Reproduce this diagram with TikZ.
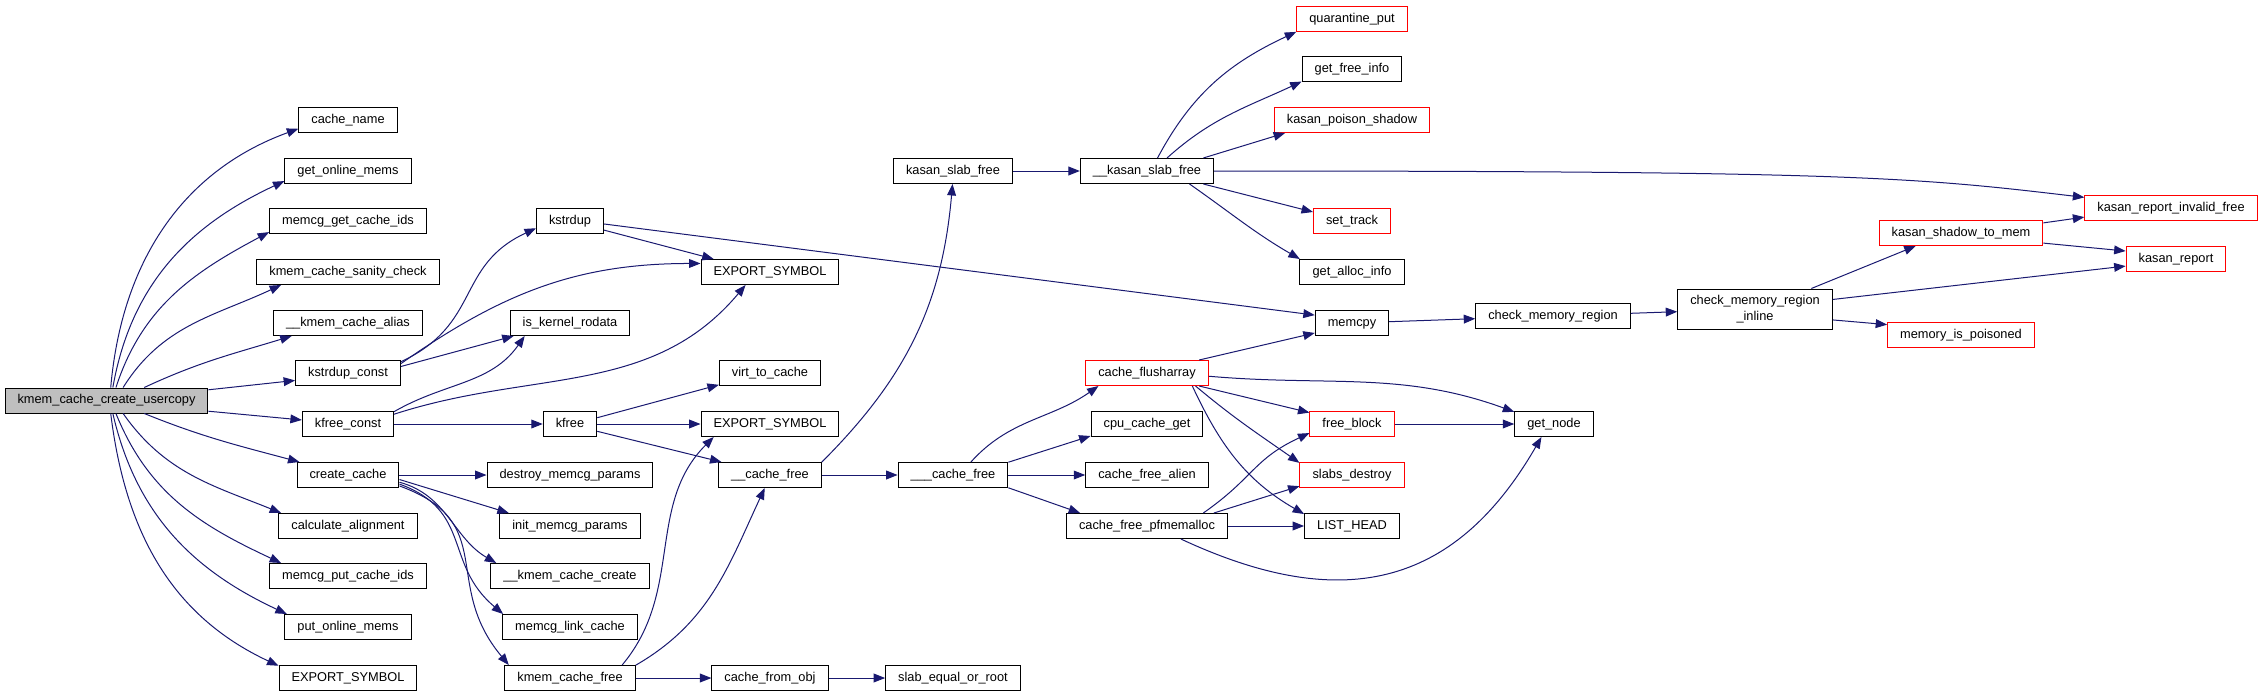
\documentclass[tikz,border=0pt]{standalone}
\usepackage{fontspec}
\setmainfont{Liberation Sans}
\usetikzlibrary{arrows.meta}
\definecolor{edgeblue}{RGB}{25,25,112}
\definecolor{rootgrey}{RGB}{191,191,191}

\begin{document}
\begin{tikzpicture}[
		x=0.75pt, y=0.75pt,
		fnbase/.style={draw=black, rectangle, line width=0.75pt, fill=white, inner xsep=9.4pt, font=\fontsize{9.6}{11.5}\selectfont},
		fnbox/.style={fnbase, inner ysep=0pt, minimum height=18.75pt, text height=7pt, text depth=2pt},
		redbox/.style={fnbox, draw=red},
		rootbox/.style={fnbox, fill=rootgrey},
		callarrow/.style={-{Triangle[length=8.6pt, width=6.6pt]}, line width=0.75pt, draw=edgeblue}
		]
		\useasboundingbox (0,0) rectangle (2267,-696);
		
		% Define Nodes
		\node[rootbox] (root) at (106.5,-400.5) {kmem\_cache\_create\_usercopy};
		
		% direct callees
		\node[fnbox] (cname) at (348,-120) {cache\_name};
		\node[fnbox] (gom) at (348,-171) {get\_online\_mems};
		\node[fnbox] (mgci) at (348,-221) {memcg\_get\_cache\_ids};
		\node[fnbox] (kcsc) at (348,-272) {kmem\_cache\_sanity\_check};
		\node[fnbox] (kca) at (348,-323) {\_\_kmem\_cache\_alias};
		\node[fnbox] (ksc) at (348,-373) {kstrdup\_const};
		\node[fnbox] (kfc) at (348,-424) {kfree\_const};
		\node[fnbox] (cc) at (348,-475) {create\_cache};
		\node[fnbox] (calign) at (348,-526) {calculate\_alignment};
		\node[fnbox] (mpci) at (348,-576) {memcg\_put\_cache\_ids};
		\node[fnbox] (pom) at (348,-627) {put\_online\_mems};
		\node[fnbox] (exp1) at (348,-678) {EXPORT\_SYMBOL};
		
		% second level
		\node[fnbox] (kstrdup) at (570,-221) {kstrdup};
		\node[fnbox] (iskr) at (570,-323) {is\_kernel\_rodata};
		\node[fnbox] (kfree) at (570,-424) {kfree};
		\node[fnbox] (dmp) at (570,-475) {destroy\_memcg\_params};
		\node[fnbox] (imp) at (570,-526) {init\_memcg\_params};
		\node[fnbox] (kmcc) at (570,-576) {\_\_kmem\_cache\_create};
		\node[fnbox] (mlc) at (570,-627) {memcg\_link\_cache};
		\node[fnbox] (kcf) at (570,-678) {kmem\_cache\_free};
		
		\node[fnbox] (exp2) at (770,-272) {EXPORT\_SYMBOL};
		\node[fnbox] (vtc) at (770,-373) {virt\_to\_cache};
		\node[fnbox] (exp3) at (770,-424) {EXPORT\_SYMBOL};
		\node[fnbox] (cf) at (770,-475) {\_\_cache\_free};
		\node[fnbox] (cfo) at (770,-678) {cache\_from\_obj};
		
		\node[fnbox] (ksf) at (953,-171) {kasan\_slab\_free};
		\node[fnbox] (ccf) at (953,-475) {\_\_\_cache\_free};
		\node[fnbox] (seor) at (953,-678) {slab\_equal\_or\_root};
		
		\node[fnbox] (kksf) at (1147,-171) {\_\_kasan\_slab\_free};
		\node[redbox] (cfa) at (1147,-373) {cache\_flusharray};
		\node[fnbox] (ccg) at (1147,-424) {cpu\_cache\_get};
		\node[fnbox] (cfal) at (1147,-475) {cache\_free\_alien};
		\node[fnbox] (cfpm) at (1147,-526) {cache\_free\_pfmemalloc};
		
		\node[redbox] (qp) at (1352,-19) {quarantine\_put};
		\node[fnbox] (gfi) at (1352,-69) {get\_free\_info};
		\node[redbox] (kps) at (1352,-120) {kasan\_poison\_shadow};
		\node[redbox] (st) at (1352,-221) {set\_track};
		\node[fnbox] (gai) at (1352,-272) {get\_alloc\_info};
		\node[fnbox] (memcpy) at (1352,-323) {memcpy};
		\node[redbox] (fb) at (1352,-424) {free\_block};
		\node[redbox] (sd) at (1352,-475) {slabs\_destroy};
		\node[fnbox] (lh) at (1352,-526) {LIST\_HEAD};
		
		% kasan checks
		\node[fnbox] (cmr) at (1553,-316) {check\_memory\_region};
		\node[fnbox] (gn) at (1554,-424) {get\_node};
		\node[fnbase, align=center, minimum height=30pt, inner ysep=1pt] (cmri) at (1755,-309) {check\_memory\_region\\\_inline};
		\node[redbox] (kstm) at (1961,-233) {kasan\_shadow\_to\_mem};
		\node[redbox] (mip) at (1961,-335) {memory\_is\_poisoned};
		\node[redbox] (krif) at (2171,-208) {kasan\_report\_invalid\_free};
		\node[redbox] (kr) at (2176,-259) {kasan\_report};
		
		% calls from kmem_cache_create_usercopy
		\draw[callarrow] (root.72) to[out=85,in=200] (cname.190);
		\draw[callarrow] (root.64) to[out=80,in=205] (gom.189);
		\draw[callarrow] (root.54) to[out=72,in=208] (mgci.188);
		\draw[callarrow] (root.38) to[out=58,in=205] (kcsc.191);
		\draw[callarrow] (root.19) to[out=25,in=197] (kca.193);
		\draw[callarrow] (root.6) -- (ksc.188);
		\draw[callarrow] (root.-6) -- (kfc.175);
		\draw[callarrow] (root.-19) to[out=-22,in=165] (cc.165);
		\draw[callarrow] (root.-38) to[out=-55,in=158] (calign.169);
		\draw[callarrow] (root.-54) to[out=-68,in=155] (mpci.169);
		\draw[callarrow] (root.-64) to[out=-77,in=155] (pom.168);
		\draw[callarrow] (root.-72) to[out=-83,in=155] (exp1.170);
		
		% kstrdup_const, kfree_const
		\draw[callarrow] (ksc.12) to[out=25,in=205,looseness=1.2] (kstrdup.192);
		\draw[callarrow] (ksc.10) to[out=35,in=180] (exp2.173);
		\draw[callarrow] (ksc.7) -- (iskr.193);
		\draw[callarrow] (kfc.15) to[out=30,in=235] (iskr.196);
		\draw[callarrow] (kfc.12) to[out=18,in=230] (exp2.208);
		\draw[callarrow] (kfc) -- (kfree);
		
		\draw[callarrow] (kstrdup.-15) -- (exp2.167);
		\draw[callarrow] (kstrdup.-5) -- (memcpy.168);
		\draw[callarrow] (kfree.13) -- (vtc.193);
		\draw[callarrow] (kfree) -- (exp3);
		\draw[callarrow] (kfree.-15) -- (cf.165);
		
		% create_cache
		\draw[callarrow] (cc) -- (dmp);
		\draw[callarrow] (cc.-5) -- (imp.168);
		\draw[callarrow] (cc.-8) to[out=-15,in=150] (kmcc.170);
		\draw[callarrow] (cc.-10) to[out=-20,in=140,looseness=1.2] (mlc.169);
		\draw[callarrow] (cc.-12) to[out=-20,in=130,looseness=1.3] (kcf.168);
		
		% kmem_cache_free
		\draw[callarrow] (kcf.14) to[out=50,in=225] (exp3.193);
		\draw[callarrow] (kcf.11) to[out=30,in=245] (cf.248);
		\draw[callarrow] (kcf) -- (cfo);
		\draw[callarrow] (cfo) -- (seor);
		
		% __cache_free
		\draw[callarrow] (cf.14) to[out=45,in=265] (ksf.268);
		\draw[callarrow] (cf) -- (ccf);
		\draw[callarrow] (ksf) -- (kksf);
		
		% __kasan_slab_free
		\draw[callarrow] (kksf.51) to[out=62,in=205] (qp.193);
		\draw[callarrow] (kksf.33) to[out=42,in=205] (gfi.194);
		\draw[callarrow] (kksf.13) -- (kps.191);
		\draw[callarrow] (kksf.-13) -- (st.167);
		\draw[callarrow] (kksf.-17) to[out=-35,in=150] (gai.166);
		\draw[callarrow] (kksf.east) .. controls +(640,0) and +(-170,20) .. (krif.173);
		
		% ___cache_free
		\draw[callarrow] (ccf.36) to[out=48,in=215] (cfa.195);
		\draw[callarrow] (ccf.13) -- (ccg.192);
		\draw[callarrow] (ccf) -- (cfal);
		\draw[callarrow] (ccf.-13) -- (cfpm.169);
		
		% cache_flusharray, cache_free_pfmemalloc
		\draw[callarrow] (cfa.14) -- (memcpy.195);
		\draw[callarrow] (cfa.-3) to[out=-5,in=160] (gn.163);
		\draw[callarrow] (cfa.-14) -- (fb.165);
		\draw[callarrow] (cfa.-15) to[out=-40,in=145] (sd.167);
		\draw[callarrow] (cfa.-16) to[out=-65,in=150] (lh.166);
		\draw[callarrow] (cfpm.13) to[out=35,in=205,looseness=1.2] (fb.192);
		\draw[callarrow] (cfpm.11) -- (sd.192);
		\draw[callarrow] (cfpm) -- (lh);
		\draw[callarrow] (cfpm.-21) to[out=-25,in=240,looseness=1.2] (gn.226);
		\draw[callarrow] (fb) -- (gn);
		
		% memcpy chain
		\draw[callarrow] (memcpy) -- (cmr);
		\draw[callarrow] (cmr) -- (cmri);
		\draw[callarrow] (cmri.20) -- (kstm.196);
		\draw[callarrow] (cmri.7) -- (kr.188);
		\draw[callarrow] (cmri.-8) -- (mip.172);
		\draw[callarrow] (kstm.7) -- (krif.186);
		\draw[callarrow] (kstm.-7) -- (kr.171);
		
	\end{tikzpicture}
\end{document}
